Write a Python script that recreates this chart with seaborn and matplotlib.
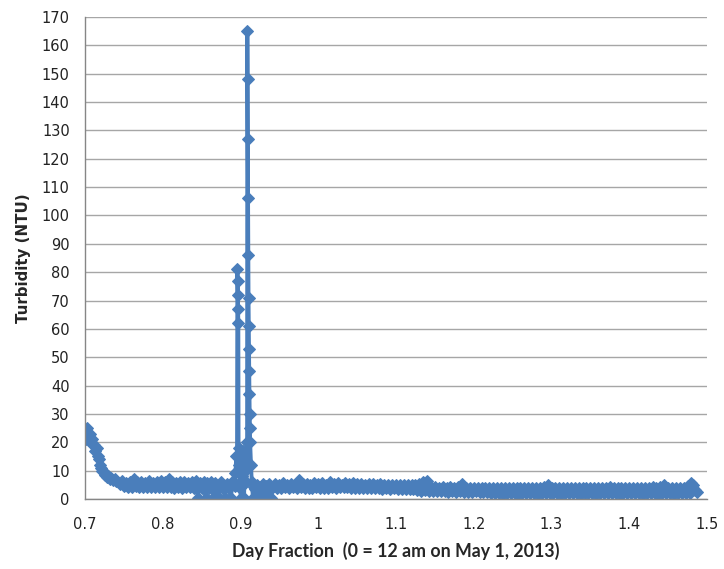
import numpy as np
import pandas as pd
import matplotlib
matplotlib.use("Agg")
import matplotlib.pyplot as plt
import seaborn as sns

# turbidity readings (day fraction, NTU)
day_start = [0.700, 0.7015, 0.703, 0.7045, 0.706, 0.7075, 0.709, 0.7105, 0.712, 0.7135,
             0.715, 0.7165, 0.718, 0.7195, 0.721, 0.7225, 0.724, 0.7255, 0.727, 0.7285,
             0.730, 0.732, 0.734, 0.736, 0.738, 0.740]
ntu_start = [24, 21, 25, 22, 23, 20, 21, 19, 19, 17,
             18, 15, 14, 12, 11, 10, 9.5, 8.5, 8.8, 7.6,
             8, 7, 7.4, 6.6, 7, 6.2]

day_mid = [0.7450, 0.7475, 0.7500, 0.7525, 0.7550, 0.7575, 0.7600, 0.7625, 0.7650, 0.7675,
           0.7700, 0.7725, 0.7750, 0.7775, 0.7800, 0.7825, 0.7850, 0.7875, 0.7900, 0.7925,
           0.7950, 0.7975, 0.8000, 0.8025, 0.8050, 0.8075, 0.8100, 0.8125, 0.8150, 0.8175,
           0.8200, 0.8225, 0.8250, 0.8275, 0.8300, 0.8325, 0.8350, 0.8375, 0.8400, 0.8425,
           0.8450, 0.8475, 0.8500, 0.8525, 0.8550, 0.8575, 0.8600, 0.8625, 0.8650, 0.8675,
           0.8700, 0.8725, 0.8750, 0.8775, 0.8800, 0.8825, 0.8850, 0.8875, 0.8900]
ntu_mid = [5.2, 6.3, 4.6, 5.8, 4.4, 6.0, 4.2, 7.0, 4.5, 5.9,
           4.2, 6.1, 4.4, 5.8, 4.3, 6.2, 4.1, 5.7, 4.4, 6.0,
           4.1, 6.4, 4.3, 5.9, 4.2, 7.0, 4.4, 6.1, 4.0, 5.8,
           4.3, 5.9, 4.0, 6.1, 4.2, 5.8, 4.1, 6.0, 3.9, 6.5,
           0.3, 5.6, 3.8, 5.9, 0.2, 5.5, 4.0, 6.0, 0.4, 5.5,
           3.7, 0.2, 6.0, 3.9, 0.3, 5.4, 3.8, 0.2, 6.2]

day_spike = [0.8925, 0.8935, 0.8945, 0.8955, 0.8960, 0.8963, 0.8966, 0.8969, 0.8972, 0.8975,
             0.8985, 0.8995, 0.9005, 0.9015, 0.9025, 0.9035, 0.9045, 0.9055, 0.9065, 0.9075,
             0.9085, 0.9088, 0.9091, 0.9094, 0.9097, 0.9100, 0.9103, 0.9106, 0.9109, 0.9112,
             0.9115, 0.9118, 0.9121, 0.9124, 0.9135, 0.9145, 0.9160, 0.9175, 0.9190, 0.9210,
             0.9230, 0.9250, 0.9270, 0.9290, 0.9310, 0.9330, 0.9350, 0.9370, 0.9390, 0.9410]
ntu_spike = [4.5, 9, 15, 10, 81, 77, 72, 67, 62, 18,
             12, 4, 0.3, 14, 8, 17, 0.2, 10, 13, 6,
             20, 165, 148, 127, 106, 86, 71, 61, 53, 45,
             37, 30, 25, 20, 12, 6, 0.3, 4.2, 3.5, 5.0,
             0.2, 4.4, 0.3, 5.3, 0.2, 4.6, 0.3, 5.2, 0.2, 4.0]

day_tail = [0.9450, 0.9475, 0.9500, 0.9525, 0.9550, 0.9575, 0.9600, 0.9625, 0.9650, 0.9675,
            0.9700, 0.9725, 0.9750, 0.9775, 0.9800, 0.9825, 0.9850, 0.9875, 0.9900, 0.9925,
            0.9950, 0.9975, 1.0000, 1.0025, 1.0050, 1.0075, 1.0100, 1.0125, 1.0150, 1.0175,
            1.0200, 1.0225, 1.0250, 1.0275, 1.0300, 1.0325, 1.0350, 1.0375, 1.0400, 1.0425,
            1.0450, 1.0475, 1.0500, 1.0525, 1.0550, 1.0575, 1.0600, 1.0625, 1.0650, 1.0675,
            1.0700, 1.0725, 1.0750, 1.0775, 1.0800, 1.0825, 1.0850, 1.0875, 1.0900, 1.0925,
            1.0950, 1.0975, 1.1000, 1.1025, 1.1050, 1.1075, 1.1100, 1.1125, 1.1150, 1.1175,
            1.1200, 1.1225, 1.1250, 1.1275, 1.1300, 1.1325, 1.1350, 1.1375, 1.1400, 1.1425,
            1.1450, 1.1475, 1.1500, 1.1525, 1.1550, 1.1575, 1.1600, 1.1625, 1.1650, 1.1675,
            1.1700, 1.1725, 1.1750, 1.1775, 1.1800, 1.1825, 1.1850, 1.1875, 1.1900, 1.1925,
            1.1950, 1.1975, 1.2000, 1.2025, 1.2050, 1.2075, 1.2100, 1.2125, 1.2150, 1.2175,
            1.2200, 1.2225, 1.2250, 1.2275, 1.2300, 1.2325, 1.2350, 1.2375, 1.2400, 1.2425,
            1.2450, 1.2475, 1.2500, 1.2525, 1.2550, 1.2575, 1.2600, 1.2625, 1.2650, 1.2675,
            1.2700, 1.2725, 1.2750, 1.2775, 1.2800, 1.2825, 1.2850, 1.2875, 1.2900, 1.2925,
            1.2950, 1.2975, 1.3000, 1.3025, 1.3050, 1.3075, 1.3100, 1.3125, 1.3150, 1.3175,
            1.3200, 1.3225, 1.3250, 1.3275, 1.3300, 1.3325, 1.3350, 1.3375, 1.3400, 1.3425,
            1.3450, 1.3475, 1.3500, 1.3525, 1.3550, 1.3575, 1.3600, 1.3625, 1.3650, 1.3675,
            1.3700, 1.3725, 1.3750, 1.3775, 1.3800, 1.3825, 1.3850, 1.3875, 1.3900, 1.3925,
            1.3950, 1.3975, 1.4000, 1.4025, 1.4050, 1.4075, 1.4100, 1.4125, 1.4150, 1.4175,
            1.4200, 1.4225, 1.4250, 1.4275, 1.4300, 1.4325, 1.4350, 1.4375, 1.4400, 1.4425,
            1.4450, 1.4475, 1.4500, 1.4525, 1.4550, 1.4575, 1.4600, 1.4625, 1.4650, 1.4675,
            1.4700, 1.4725, 1.4750, 1.4775, 1.4800, 1.4825, 1.4850, 1.4870]
ntu_tail = [5.3, 4.0, 4.8, 3.9, 5.5, 4.2, 5.0, 3.8, 5.4, 4.1,
            4.9, 3.9, 6.8, 4.3, 5.2, 3.8, 5.4, 4.0, 5.1, 3.9,
            5.6, 4.1, 5.2, 3.8, 5.5, 4.0, 5.0, 3.9, 6.1, 4.2,
            5.3, 4.0, 5.5, 4.3, 5.1, 4.4, 5.6, 4.2, 5.2, 4.0,
            5.6, 3.9, 5.3, 4.0, 5.4, 3.8, 5.0, 3.9, 5.3, 3.8,
            5.2, 3.9, 5.0, 3.8, 5.3, 3.7, 4.9, 3.8, 5.1, 3.7,
            5.0, 3.8, 4.8, 3.6, 5.1, 3.7, 4.9, 3.6, 5.0, 3.7,
            4.9, 3.6, 4.8, 3.0, 5.2, 2.9, 6.0, 3.3, 6.3, 2.8,
            4.4, 2.8, 4.1, 2.7, 4.0, 2.8, 4.2, 2.7, 4.0, 2.6,
            4.1, 2.7, 3.9, 2.6, 4.2, 2.7, 5.2, 2.6, 4.0, 2.5,
            4.0, 2.6, 3.8, 2.7, 3.9, 2.5, 4.0, 2.6, 3.9, 2.4,
            3.8, 2.2, 3.9, 2.0, 3.8, 2.1, 3.9, 1.9, 3.8, 2.0,
            3.9, 2.1, 3.8, 2.0, 3.9, 1.9, 3.8, 2.1, 3.9, 2.0,
            3.8, 2.0, 4.0, 2.1, 3.8, 1.9, 3.9, 2.0, 4.1, 2.1,
            5.0, 2.0, 3.9, 2.1, 3.8, 2.0, 3.9, 1.9, 3.8, 2.1,
            3.9, 2.0, 3.8, 2.1, 3.9, 2.0, 3.8, 1.9, 3.9, 2.0,
            3.8, 2.1, 3.9, 2.0, 3.8, 1.9, 3.9, 2.0, 3.8, 2.1,
            3.9, 2.0, 4.3, 2.1, 3.8, 2.0, 3.9, 1.9, 3.8, 2.0,
            3.9, 2.1, 3.8, 2.0, 3.9, 2.0, 3.8, 2.1, 3.9, 1.9,
            3.8, 2.0, 3.9, 2.1, 4.4, 2.0, 3.8, 1.9, 4.2, 2.0,
            5.0, 2.1, 3.9, 2.0, 3.8, 1.9, 3.9, 2.0, 3.8, 2.1,
            4.0, 2.0, 4.6, 2.2, 5.6, 4.8, 3.2, 2.4]

df = pd.DataFrame({"day": day_start + day_mid + day_spike + day_tail,
                   "ntu": ntu_start + ntu_mid + ntu_spike + ntu_tail})

blue = "#4A7EBB"
grid_col = "#A6A6A6"

sns.set_style("white")
plt.rcParams['font.family'] = ['DejaVu Sans']

fig = plt.figure(figsize=(7.24, 5.69), dpi=100)
ax = fig.add_axes([85/724, 70/569, 622/724, 482/569])

sns.lineplot(data=df, x="day", y="ntu", sort=False, estimator=None, ax=ax,
             color=blue, linewidth=2.8, marker="D", markersize=6,
             markeredgecolor=blue, markerfacecolor=blue)

ax.set_xlim(0.7, 1.5)
ax.set_ylim(0, 170)
ax.set_xticks(np.arange(0.7, 1.51, 0.1))
ax.set_xticklabels(["0.7", "0.8", "0.9", "1", "1.1", "1.2", "1.3", "1.4", "1.5"])
ax.set_yticks(np.arange(0, 171, 10))

ax.yaxis.grid(True, color=grid_col, linewidth=1)
ax.xaxis.grid(False)
ax.set_axisbelow(True)
for s in ["top", "right"]:
    ax.spines[s].set_visible(False)
for s in ["left", "bottom"]:
    ax.spines[s].set_color("#868686")
    ax.spines[s].set_linewidth(1)
ax.tick_params(axis="both", direction="out", length=5, width=1, color="#868686",
               labelsize=10.5, labelcolor="#222222")
ax.tick_params(axis="x", pad=8)
ax.tick_params(axis="y", pad=6)

ax.set_xlabel("Day Fraction  (0 = 12 am on May 1, 2013)", fontsize=12.8,
              fontweight="bold", family="Lato", labelpad=7)
ax.set_ylabel("Turbidity (NTU)", fontsize=10.8, fontweight="bold", labelpad=8)

fig.savefig("out.png", dpi=100)
